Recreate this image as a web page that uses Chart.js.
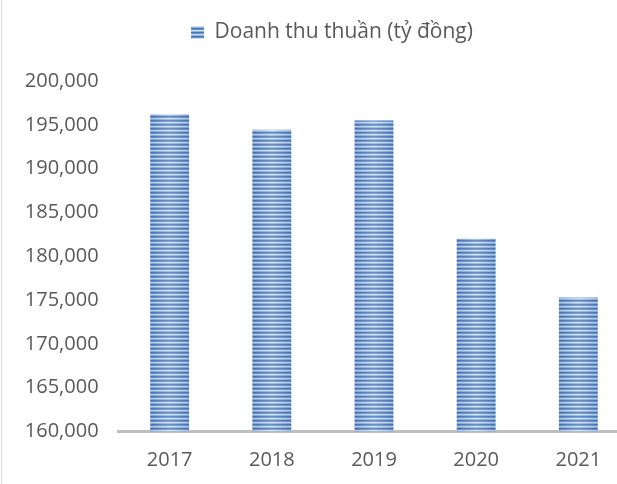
<!DOCTYPE html>
<html>
<head>
<meta charset="utf-8">
<script src="https://cdn.jsdelivr.net/npm/chart.js@4/dist/chart.umd.min.js"></script>
<style>
    html, body { margin: 0; padding: 0; background: #ffffff; overflow: hidden; }
    #wrap { position: relative; width: 617px; height: 484px; overflow: hidden; }
    #edge { position: absolute; left: 1px; top: 0; width: 1px; height: 484px; background: #d9d9d9; }
    canvas { position: absolute; left: 0; top: 0; }
</style>
</head>
<body>
<div id="wrap">
    <canvas id="chartRevenue" width="664" height="484"></canvas>
    <div id="edge"></div>
</div>
<script>
var years = ['2017', '2018', '2019', '2020', '2021'];
var revenue = [196200, 194450, 195500, 182000, 175300];
var seriesLabel = 'Doanh thu thuần (tỷ đồng)';
var yMin = 160000;
var yMax = 200000;
var yStep = 5000;

var textColor = '#595959';
var fontFamily = '"Open Sans", "Noto Sans", sans-serif';

// horizontal stripes like the excel fill
function makeStripePattern() {
    var tile = document.createElement('canvas');
    tile.width = 4;
    tile.height = 4;
    var tctx = tile.getContext('2d');
    var rows = ['#4577ba', '#6891c9', '#cddff3', '#93b3dc'];
    for (var i = 0; i < rows.length; i++) {
        tctx.fillStyle = rows[i];
        tctx.fillRect(0, i, 4, 1);
    }
    return tctx.createPattern(tile, 'repeat');
}

var ctx = document.getElementById('chartRevenue').getContext('2d');
var stripes = makeStripePattern();

// lighter in the middle of each bar, darker near the edges
var barShading = {
    id: 'barShading',
    afterDatasetsDraw: function(chart) {
        var c = chart.ctx;
        var bottom = chart.chartArea.bottom;
        chart.getDatasetMeta(0).data.forEach(function(bar) {
            var left = bar.x - bar.width / 2;
            var right = bar.x + bar.width / 2;
            var base = Math.min(bar.base, bottom);
            var g = c.createLinearGradient(left, 0, right, 0);
            g.addColorStop(0, 'rgba(55,95,155,0.22)');
            g.addColorStop(0.5, 'rgba(255,255,255,0.18)');
            g.addColorStop(1, 'rgba(55,95,155,0.22)');
            c.save();
            c.fillStyle = g;
            c.fillRect(left, bar.y, bar.width, base - bar.y);
            c.restore();
        });
    }
};

var legendSpace = {
    id: 'legendSpace',
    beforeInit: function(chart) {
        var fit = chart.legend.fit;
        chart.legend.fit = function() {
            fit.bind(chart.legend)();
            this.height += 28;
        };
    },
    afterLayout: function(chart) {
        // legend sits a bit right of the plot centre
        chart.legend.left += 17.3;
        chart.legend.right += 17.3;
    }
};

new Chart(ctx, {
    type: 'bar',
    plugins: [barShading, legendSpace],
    data: {
        labels: years,
        datasets: [{
            label: seriesLabel,
            data: revenue,
            backgroundColor: stripes,
            borderWidth: 0,
            categoryPercentage: 1,
            barPercentage: 0.38
        }]
    },
    options: {
        responsive: false,
        animation: false,
        layout: {
            padding: { top: 12, right: 34.6, left: 0, bottom: 0 }
        },
        plugins: {
            legend: {
                display: true,
                position: 'top',
                labels: {
                    color: textColor,
                    boxWidth: 13,
                    boxHeight: 13,
                    padding: 10,
                    font: { family: fontFamily, size: 21 }
                }
            },
            tooltip: { enabled: false }
        },
        scales: {
            x: {
                grid: { display: false, drawTicks: false },
                border: { display: true, color: '#bfbfbf', width: 3 },
                ticks: {
                    color: textColor,
                    padding: 17,
                    font: { family: fontFamily, size: 20 }
                },
                afterFit: function(scale) {
                    scale.height = 52.5;
                }
            },
            y: {
                min: yMin,
                max: yMax,
                grid: { display: false, drawTicks: false },
                border: { display: false },
                ticks: {
                    stepSize: yStep,
                    color: textColor,
                    padding: 20,
                    font: { family: fontFamily, size: 20 },
                    callback: function(value) {
                        return value.toLocaleString('en-US');
                    }
                },
                afterFit: function(scale) {
                    scale.width = 118.6;
                }
            }
        }
    }
});
</script>
</body>
</html>
